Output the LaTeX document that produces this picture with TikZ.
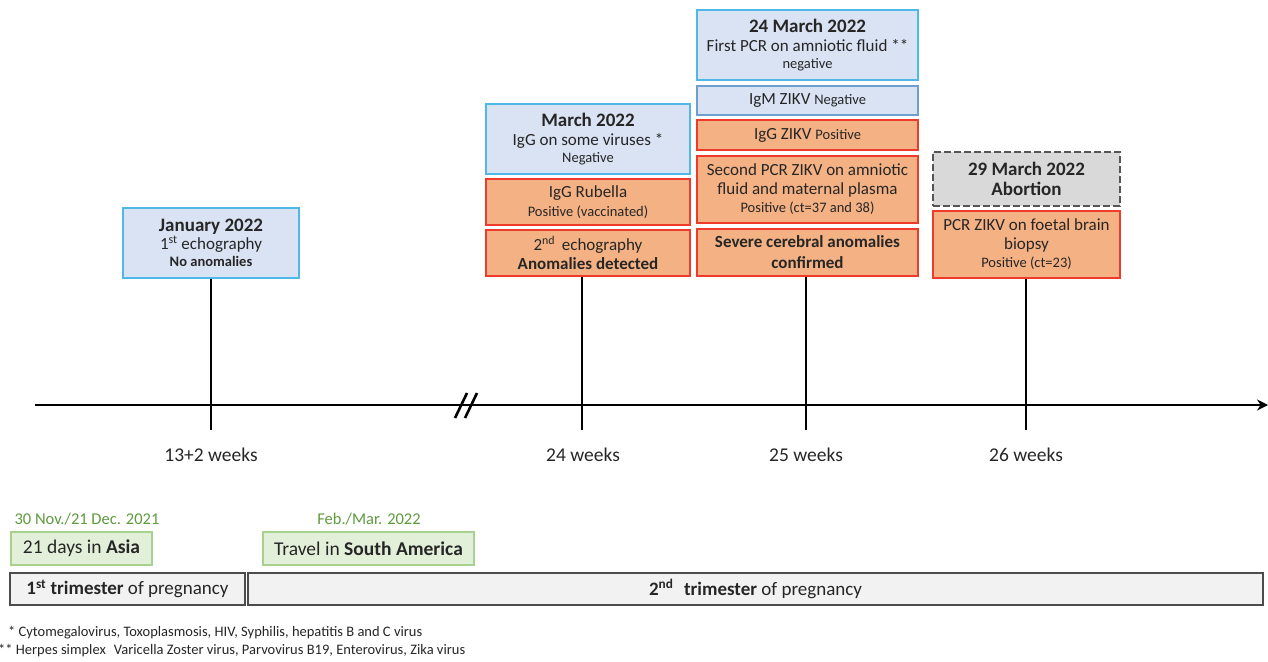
\documentclass[tikz,border=0pt]{standalone}
\usepackage{fontspec}
\setmainfont{Carlito}
\usetikzlibrary{arrows.meta}
\definecolor{bfill}{HTML}{DAE3F3}
\definecolor{bdraw}{HTML}{4FB8E6}
\definecolor{bdraw2}{HTML}{6F9FCF}
\definecolor{ofill}{HTML}{F4B183}
\definecolor{odraw}{HTML}{EE3B2B}
\definecolor{gfill}{HTML}{E2F0D9}
\definecolor{gdraw}{HTML}{A9D18E}
\definecolor{gtext}{HTML}{5E9A3E}
\definecolor{grfill}{HTML}{D9D9D9}
\definecolor{grdraw}{HTML}{555555}
\definecolor{tfill}{HTML}{F2F2F2}
\newcommand{\ft}[1]{\fontsize{#1}{#1}\selectfont}
\tikzset{
  box/.style={draw, line width=1.2pt, align=center, inner sep=0pt, font=\ft{17}, text=black!85},
  bluebox/.style={box, fill=bfill, draw=bdraw},
  orbox/.style={box, fill=ofill, draw=odraw},
  grnbox/.style={box, fill=gfill, draw=gdraw, font=\ft{19.5}},
  tribox/.style={box, fill=tfill, draw=black!70, line width=1.2pt, font=\ft{19}},
  abox/.style={box, fill=grfill, draw=grdraw, dash pattern=on 7pt off 3pt, line width=1.6pt},
  tick/.style={line width=2.6pt, black},
  wk/.style={font=\ft{19.5}, text=black!85},
}
\begin{document}
\begin{tikzpicture}[x=1pt,y=-1pt]
\useasboundingbox (0,0) rectangle (1268,661);
% axis
\coordinate (a0) at (35,405);
\coordinate (a1) at (1268,405);
\draw[line width=2.8pt, -{Stealth[length=11pt,width=11pt]}] (a0) -- (a1);
\coordinate (s1a) at (455,418); \coordinate (s1b) at (467,393);
\coordinate (s2a) at (465,418); \coordinate (s2b) at (477,393);
\draw[line width=2.6pt] (s1a) -- (s1b);
\draw[line width=2.6pt] (s2a) -- (s2b);

% January
\node[bluebox, minimum width=176pt, minimum height=70pt] (jan) at (211,243)
  {{\ft{19}\bfseries January 2022}\\[1pt]1\textsuperscript{st} echography\\[0pt]{\ft{14.5}\bfseries No anomalies}};
% March
\node[bluebox, minimum width=204pt, minimum height=70pt] (mar) at (588,139)
  {{\ft{19}\bfseries March 2022}\\[2pt]IgG on some viruses *\\[0pt]{\ft{14.5}Negative}};
\node[orbox, minimum width=204pt, minimum height=46pt] (rub) at (588,202)
  {IgG Rubella\\[2pt]{\ft{14.5}Positive (vaccinated)}};
\node[orbox, minimum width=204pt, minimum height=46pt] (echo) at (588,253)
  {2\textsuperscript{nd}\, echography\\[2pt]{\bfseries Anomalies detected}};
% 24 March
\node[bluebox, minimum width=221pt, minimum height=70pt] (m24) at (807.5,45)
  {{\ft{19}\bfseries 24 March 2022}\\[2pt]First PCR on amniotic fluid **\\[0pt]{\ft{14.5}negative}};
\node[box, fill=bfill, draw=bdraw2, minimum width=221pt, minimum height=29pt] (igm) at (807.5,100.5)
  {IgM ZIKV {\ft{14.5}Negative}};
\node[orbox, minimum width=221pt, minimum height=30pt] (iggz) at (807.5,135)
  {IgG ZIKV {\ft{14.5}Positive}};
\node[orbox, minimum width=221pt, minimum height=67pt] (pcr2) at (807.5,189.5)
  {Second PCR ZIKV on amniotic\\[2pt]fluid and maternal plasma\\[1pt]{\ft{14.5}Positive (ct=37 and 38)}};
\node[orbox, minimum width=221pt, minimum height=47pt] (sev) at (807.5,252.5)
  {{\bfseries Severe cerebral anomalies}\\[4pt]{\bfseries confirmed}};
% 29 March
\node[abox, minimum width=187pt, minimum height=54pt] (abo) at (1026.5,179)
  {{\ft{19}\bfseries 29 March 2022}\\[3pt]{\ft{19}\bfseries Abortion}};
\node[orbox, minimum width=187pt, minimum height=67pt] (pcrf) at (1026.5,244.5)
  {PCR ZIKV on foetal brain\\[2pt]biopsy\\[1pt]{\ft{14.5}Positive (ct=23)}};

% ticks
\coordinate (t1) at (211,430);
\coordinate (t2) at (582,430);
\coordinate (t3) at (806,430);
\coordinate (t4) at (1026,430);
\draw[tick] (jan.south) -- (t1);
\draw[tick] (echo.south -| t2) -- (t2);
\draw[tick] (sev.south -| t3) -- (t3);
\draw[tick] (pcrf.south -| t4) -- (t4);

% week labels
\node[wk] (w1) at (211,455) {13+2 weeks};
\node[wk] (w2) at (583,455) {24 weeks};
\node[wk] (w3) at (806,455) {25 weeks};
\node[wk] (w4) at (1026,455) {26 weeks};

% travel
\node[font=\ft{16.5}, text=gtext] (d1) at (87,519) {30 Nov./21 Dec. 2021};
\node[grnbox, minimum width=141pt, minimum height=33pt] (asia) at (81.5,548.5) {21 days in \textbf{Asia}};
\node[font=\ft{16.5}, text=gtext] (d2) at (369,519) {Feb./Mar. 2022};
\node[grnbox, minimum width=211pt, minimum height=33pt] (sa) at (368.5,548.5) {Travel in \textbf{South America}};

% trimesters
\node[tribox, minimum width=235pt, minimum height=32pt] (tr1) at (127.5,589) {\textbf{1\textsuperscript{st} trimester} of pregnancy};
\node[tribox, minimum width=1015pt, minimum height=32pt] (tr2) at (755.5,589) {\textbf{2\textsuperscript{nd}\,\, trimester} of pregnancy};

% footnotes
\node[anchor=west, font=\ft{14.5}, text=black!85, inner sep=0pt] (f1) at (3,633) {\,\,* Cytomegalovirus, Toxoplasmosis, HIV, Syphilis, hepatitis B and C virus};
\node[anchor=west, font=\ft{14.5}, text=black!85, inner sep=0pt] (f2) at (-2,651) {** Herpes simplex\,\, Varicella Zoster virus, Parvovirus B19, Enterovirus, Zika virus};
\end{tikzpicture}
\end{document}
